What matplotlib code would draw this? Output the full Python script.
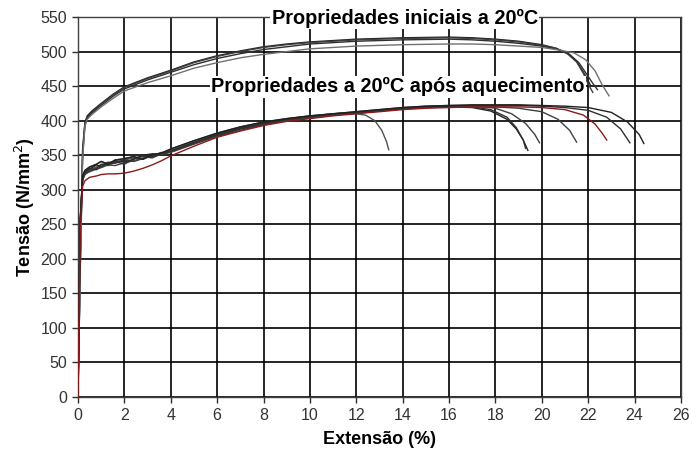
import matplotlib
matplotlib.use("Agg")
import matplotlib.pyplot as plt

plt.rcParams['font.family'] = ['Liberation Sans', 'DejaVu Sans']

# ---- Initial properties at 20C (x: strain %, y: stress N/mm2) ----
init_x = [0, 0.1, 0.2, 0.3, 0.4, 0.6, 1, 1.5, 2, 3, 4, 5, 6, 7, 8, 9, 10, 12, 14, 16, 17, 18, 19, 20]
init_a_y = [0, 200, 360, 398, 407, 414, 425, 438, 449, 462, 473, 485, 494, 501, 507, 511, 514, 518, 520, 521, 520, 518, 515, 510]
init_b_y = [0, 190, 355, 396, 405, 412, 424, 437, 448, 461, 472, 484, 493, 500, 506, 510, 513, 517, 519, 520, 519, 517, 514, 509]
init_c_y = [0, 195, 350, 394, 404, 411, 422, 435, 446, 459, 470, 481, 490, 497, 503, 507, 511, 515, 517, 518, 517, 515, 512, 508]
init_d_y = [0, 185, 345, 392, 402, 409, 420, 432, 443, 455, 465, 476, 484, 491, 496, 500, 504, 508, 510, 511, 511, 510, 508, 506]
init_a_tail_x = [20.6, 21.1, 21.5, 21.8, 22.0, 22.1]
init_a_tail_y = [505, 498, 486, 470, 458, 451]
init_b_tail_x = [20.6, 21.1, 21.5, 21.8, 22.0, 22.2]
init_b_tail_y = [505, 497, 485, 468, 453, 441]
init_c_tail_x = [20.7, 21.2, 21.6, 21.9, 22.2, 22.4]
init_c_tail_y = [503, 496, 484, 469, 454, 445]
init_d_tail_x = [20.8, 21.4, 21.9, 22.3, 22.6, 22.9]
init_d_tail_y = [502, 498, 488, 472, 452, 436]

# ---- Properties at 20C after heating ----
heat_x = [0, 0.05, 0.1, 0.2, 0.3, 0.5, 0.8, 1.0, 1.3, 1.6, 2.0, 2.4, 2.8, 3.2, 3.6, 4, 5, 6, 7, 8, 9, 10, 11, 12]
heat_1_y = [0, 150, 260, 318, 326, 329, 333, 336, 340, 338, 343, 346, 348, 346, 352, 357, 369, 381, 390, 397, 402, 406, 409, 410]
heat_2_y = [0, 145, 255, 316, 324, 330, 336, 333, 338, 342, 340, 344, 350, 352, 350, 356, 368, 379, 388, 395, 401, 405, 409, 411]
heat_3_y = [0, 140, 250, 314, 322, 327, 331, 337, 335, 340, 343, 341, 345, 349, 354, 355, 367, 378, 388, 395, 401, 405, 409, 412]
heat_4_y = [0, 148, 258, 320, 328, 333, 337, 341, 337, 343, 345, 348, 344, 351, 353, 359, 371, 382, 391, 398, 403, 407, 410, 413]
heat_5_y = [0, 142, 252, 315, 323, 326, 330, 332, 336, 335, 339, 342, 346, 348, 351, 354, 366, 377, 386, 394, 400, 404, 408, 411]
heat_6_y = [0, 146, 256, 317, 325, 331, 329, 334, 339, 341, 337, 345, 349, 347, 353, 356, 368, 380, 389, 396, 402, 406, 410, 412]
heat_r_y = [0, 135, 240, 305, 313, 318, 320, 322, 323, 323, 324, 327, 331, 336, 342, 349, 363, 376, 385, 393, 399, 403, 407, 410]

heat_1_tail_x = [12.4, 12.8, 13.1, 13.3, 13.4]
heat_1_tail_y = [408, 400, 386, 370, 358]
heat_2_tail_x = [13, 14, 15, 16, 17, 17.8, 18.5, 18.9, 19.2, 19.4]
heat_2_tail_y = [414, 417, 419, 420, 419, 414, 402, 388, 372, 357]
heat_3_tail_x = [13, 14, 15, 16, 17, 17.8, 18.5, 18.9, 19.2, 19.3]
heat_3_tail_y = [415, 418, 420, 421, 420, 416, 405, 390, 372, 360]
heat_4_tail_x = [13, 14, 15, 16, 17, 18, 18.7, 19.3, 19.7, 19.9]
heat_4_tail_y = [416, 419, 421, 422, 422, 418, 410, 396, 380, 368]
heat_5_tail_x = [13, 14, 15, 16, 17, 18, 19, 20, 20.7, 21.2, 21.5]
heat_5_tail_y = [414, 417, 419, 420, 420, 420, 418, 413, 402, 386, 369]
heat_6_tail_x = [13, 14, 15, 16, 17, 18, 19, 20, 21, 22, 22.8, 23.4, 23.8]
heat_6_tail_y = [415, 418, 420, 421, 422, 422, 422, 421, 419, 415, 405, 388, 368]
heat_7_tail_x = [13, 14, 15, 16, 17, 18, 19, 20, 21, 22, 23, 23.7, 24.2, 24.4]
heat_7_tail_y = [416, 419, 421, 422, 423, 423, 423, 422, 421, 419, 412, 398, 380, 367]
heat_r_tail_x = [13, 14, 15, 16, 17, 18, 19, 20, 21, 21.8, 22.3, 22.6, 22.8]
heat_r_tail_y = [413, 416, 418, 419, 420, 420, 420, 419, 416, 408, 395, 382, 372]

x_ticks = list(range(0, 27, 2))
y_ticks = list(range(0, 551, 50))
label_init = "Propriedades iniciais a 20ºC"
label_heat = "Propriedades a 20ºC após aquecimento"

fig = plt.figure(figsize=(6.92, 4.55), dpi=100)
ax = fig.add_axes([0.1127, 0.1275, 0.8713, 0.835])

def draw(xb, yb, xt, yt, color, lw=1.0):
    ax.plot(list(xb) + list(xt), list(yb) + list(yt), color=color, lw=lw, zorder=3)

draw(init_x, init_a_y, init_a_tail_x, init_a_tail_y, '#202020')
draw(init_x, init_b_y, init_b_tail_x, init_b_tail_y, '#404040')
draw(init_x, init_c_y, init_c_tail_x, init_c_tail_y, '#303030')
draw(init_x, init_d_y, init_d_tail_x, init_d_tail_y, '#707070')

draw(heat_x, heat_1_y, heat_1_tail_x, heat_1_tail_y, '#505050')
draw(heat_x, heat_2_y, heat_2_tail_x, heat_2_tail_y, '#202020')
draw(heat_x, heat_3_y, heat_3_tail_x, heat_3_tail_y, '#303030')
draw(heat_x, heat_4_y, heat_4_tail_x, heat_4_tail_y, '#404040')
draw(heat_x, heat_5_y, heat_5_tail_x, heat_5_tail_y, '#404040')
draw(heat_x, heat_6_y, heat_6_tail_x, heat_6_tail_y, '#303030')
draw(heat_x, heat_4_y, heat_7_tail_x, heat_7_tail_y, '#202020')
draw(heat_x, heat_r_y, heat_r_tail_x, heat_r_tail_y, '#8b1a1a')

ax.set_xlim(0, 26)
ax.set_ylim(0, 550)
ax.set_xticks(x_ticks)
ax.set_yticks(y_ticks)
ax.grid(True, color='black', lw=1.2, zorder=1)
ax.set_axisbelow(True)
for s in ax.spines.values():
    s.set_color('#404040')
    s.set_linewidth(1.0)
ax.tick_params(axis='both', direction='out', length=4, width=1, color='#303030',
               labelsize=11.5, labelcolor='#333333', pad=4)

ax.set_xlabel("Extensão (%)", fontsize=13, fontweight='bold', labelpad=6)
ax.set_ylabel("Tensão (N/mm$^2$)", fontsize=13, fontweight='bold', labelpad=2)

bb = dict(facecolor='white', edgecolor='none', pad=1.0)
ax.text(14.1, 548, label_init, fontsize=14.3, fontweight='bold', ha='center', va='center',
        bbox=bb, zorder=5)
ax.text(13.8, 449, label_heat, fontsize=14.3, fontweight='bold', ha='center', va='center',
        bbox=bb, zorder=5)

fig.savefig("out.png", dpi=100)
